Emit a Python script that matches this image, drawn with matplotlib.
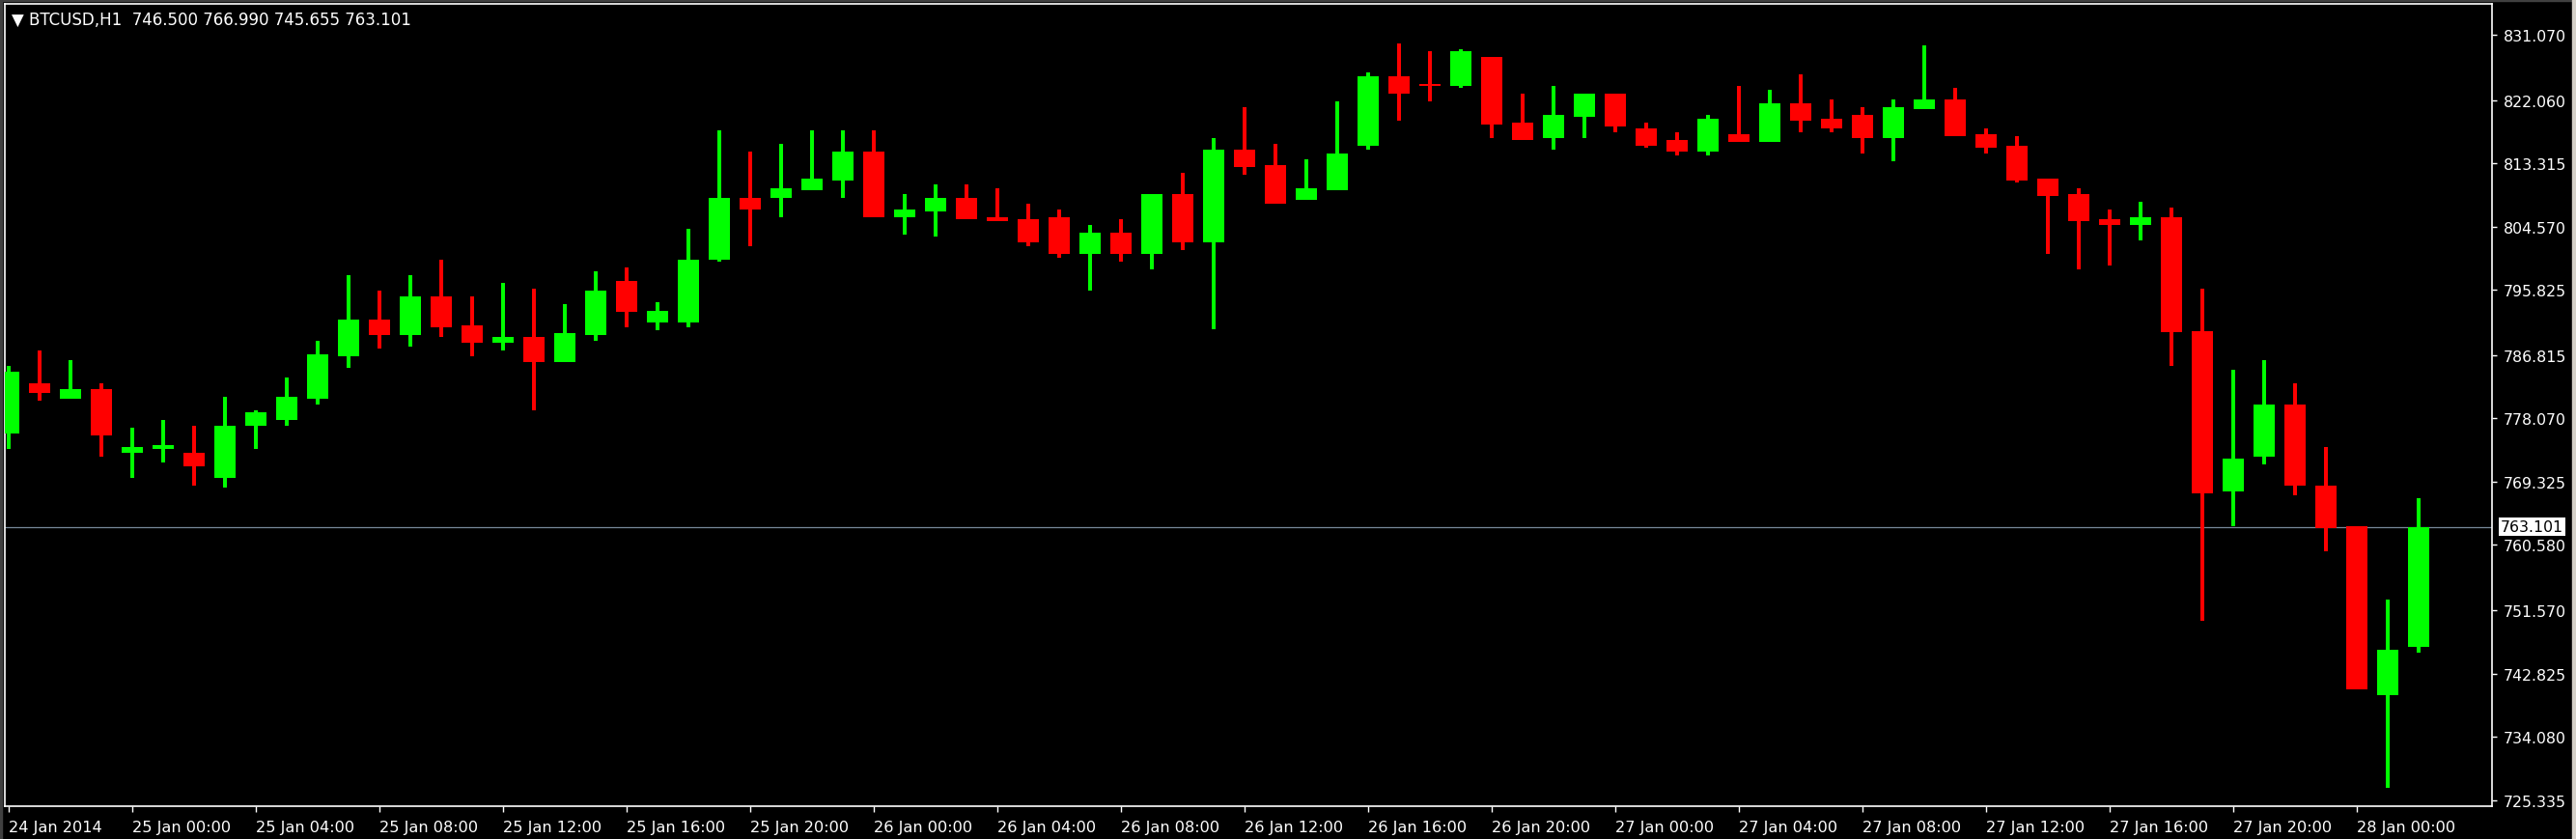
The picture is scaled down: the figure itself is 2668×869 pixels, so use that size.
import matplotlib
matplotlib.use("Agg")
import matplotlib.pyplot as plt
from matplotlib.transforms import blended_transform_factory
from matplotlib.patches import Rectangle

# ---------------- data (BTCUSD, H1) ----------------
opens = [776.03, 782.93, 780.84, 782.13, 773.36, 773.90, 773.32, 769.89, 777.10, 777.90,
         780.84, 786.70, 791.73, 789.64, 794.93, 790.93, 788.57, 789.33, 785.90, 789.64,
         797.07, 791.40, 791.40, 800.00, 808.54, 808.59, 809.66, 810.99, 814.95, 805.92,
         806.72, 808.54, 805.87, 805.61, 805.87, 800.85, 803.74, 800.85, 809.08, 802.45,
         815.22, 813.08, 808.32, 809.66, 815.79, 825.36, 824.29, 824.07, 828.03, 818.95,
         816.87, 819.80, 822.96, 818.16, 816.55, 814.99, 817.35, 816.33, 821.62, 819.49,
         820.02, 816.86, 820.87, 822.16, 817.35, 815.75, 811.21, 809.08, 805.61, 804.85,
         805.87, 790.16, 768.01, 772.84, 779.97, 768.76, 763.13, 739.76, 746.500]
highs = [785.33, 787.46, 786.13, 782.93, 776.79, 777.86, 777.05, 781.06, 779.19, 783.73,
         788.79, 797.87, 795.73, 797.87, 800.00, 794.93, 796.80, 796.00, 793.87, 798.40,
         798.94, 794.10, 804.27, 817.88, 814.95, 816.02, 817.88, 817.88, 817.88, 809.08,
         810.41, 810.41, 809.88, 807.74, 806.94, 804.81, 805.61, 809.08, 812.01, 816.82,
         821.09, 816.02, 813.88, 821.89, 825.89, 829.89, 828.83, 829.09, 828.03, 822.96,
         824.03, 822.96, 822.96, 818.96, 817.62, 820.02, 824.03, 823.49, 825.63, 822.16,
         821.09, 822.16, 829.63, 823.76, 818.15, 817.08, 811.21, 809.88, 806.94, 808.01,
         807.21, 796.00, 784.79, 786.13, 782.92, 774.13, 763.13, 753.06, 766.990]
lows = [773.90, 780.57, 780.84, 772.83, 769.89, 772.03, 768.83, 768.56, 773.90, 777.10,
        780.03, 785.10, 787.77, 788.04, 789.37, 786.70, 787.50, 779.23, 785.90, 788.84,
        790.71, 790.30, 790.70, 799.74, 801.92, 805.92, 809.66, 808.59, 805.92, 803.52,
        803.25, 805.65, 805.39, 801.92, 800.31, 795.78, 799.78, 798.71, 801.38, 790.44,
        811.79, 807.79, 808.32, 809.66, 815.26, 819.26, 821.93, 823.80, 816.86, 816.60,
        815.26, 816.87, 817.67, 815.53, 814.46, 814.46, 816.33, 816.33, 817.67, 817.67,
        814.73, 813.66, 820.87, 817.13, 814.73, 810.72, 800.85, 798.71, 799.25, 802.72,
        785.38, 750.16, 763.13, 771.77, 767.48, 759.76, 740.56, 727.00, 745.655]
closes = [784.53, 781.64, 782.13, 775.76, 774.12, 774.39, 771.49, 777.05, 778.92, 781.06,
          786.93, 791.73, 789.64, 794.93, 790.71, 788.57, 789.33, 785.90, 789.86, 795.73,
          792.84, 793.00, 800.00, 808.54, 806.99, 809.88, 811.21, 814.95, 805.92, 806.94,
          808.54, 805.65, 805.39, 802.45, 800.85, 803.74, 800.85, 809.08, 802.45, 815.22,
          812.86, 807.79, 809.88, 814.68, 825.36, 823.00, 824.02, 828.83, 818.73, 816.60,
          820.02, 822.96, 818.47, 815.80, 814.99, 819.49, 816.33, 821.62, 819.27, 818.20,
          816.86, 821.09, 822.16, 817.13, 815.53, 810.99, 808.86, 805.39, 804.85, 805.88,
          789.94, 767.75, 772.52, 779.97, 768.82, 762.97, 740.56, 746.09, 763.101]

xtick_bars = [0, 4, 8, 12, 16, 20, 24, 28, 32, 36, 40, 44, 48, 52, 56, 60, 64, 68, 72, 76]
xtick_labels = ["24 Jan 2014", "25 Jan 00:00", "25 Jan 04:00", "25 Jan 08:00", "25 Jan 12:00",
                "25 Jan 16:00", "25 Jan 20:00", "26 Jan 00:00", "26 Jan 04:00", "26 Jan 08:00",
                "26 Jan 12:00", "26 Jan 16:00", "26 Jan 20:00", "27 Jan 00:00", "27 Jan 04:00",
                "27 Jan 08:00", "27 Jan 12:00", "27 Jan 16:00", "27 Jan 20:00", "28 Jan 00:00"]
ytick_labels = ["831.070", "822.060", "813.315", "804.570", "795.825", "786.815", "778.070",
                "769.325", "760.580", "751.570", "742.825", "734.080", "725.335"]
ytick_values = [float(s) for s in ytick_labels]

symbol = "BTCUSD,H1"
last_price = closes[-1]

# ---------------- figure ----------------
W, H = 2668, 870
fig = plt.figure(figsize=(W / 100, H / 100), dpi=100, facecolor="black")
ax_l, ax_r, ax_t, ax_b = 5, 2581, 5, 836
ax = fig.add_axes([ax_l / W, 1 - ax_b / H, (ax_r - ax_l) / W, (ax_b - ax_t) / H])
ax.set_facecolor("black")

BULL = "#00FF00"
BEAR = "#FF0000"
body_w = 22 / 32

xs = list(range(len(opens)))
for x, o, h, l, c in zip(xs, opens, highs, lows, closes):
    col = BULL if c > o else BEAR
    ax.vlines(x, l, h, colors=col, linewidth=1.5, zorder=3, antialiased=False)
    bottom = min(o, c)
    height = max(abs(c - o), 0.2)
    ax.bar(x, height, bottom=bottom, width=body_w, color=col, linewidth=0,
           zorder=4, antialiased=False)

# bid line
ax.axhline(last_price, color="#778899", linewidth=0.9, zorder=2)

ax.set_xlim(-0.125, 80.375)
ax.set_ylim(724.48, 835.37)

for sp in ax.spines.values():
    sp.set_color("white")
    sp.set_linewidth(1.2)

# y axis on right
ax.yaxis.tick_right()
ax.set_yticks(ytick_values)
ax.set_yticklabels(ytick_labels)
ax.tick_params(axis="y", colors="white", length=3.5, width=1, pad=5, labelsize=11.3,
               labelcolor="white")

# x axis
ax.set_xticks(xtick_bars)
ax.set_xticklabels(xtick_labels)
ax.tick_params(axis="x", colors="white", length=4, width=1, pad=6, labelsize=11.6,
               labelcolor="white")
for lab in ax.get_xticklabels():
    lab.set_horizontalalignment("left")

# last price label box
tr = blended_transform_factory(ax.transAxes, ax.transData)
ax.text(1 + 9 / (ax_r - ax_l), last_price, f"{last_price:.3f}", transform=tr,
        ha="left", va="center", fontsize=11.3, color="black", zorder=10, clip_on=False,
        bbox=dict(boxstyle="square,pad=0.12", fc="white", ec="none"))

# header text
fig.text(12 / W, 1 - 21 / H,
         f"\u25BC {symbol}  {opens[-1]:.3f} {highs[-1]:.3f} {lows[-1]:.3f} {closes[-1]:.3f}",
         ha="left", va="center", color="white", fontsize=12)

# window border strips
fig.patches.append(Rectangle((0, 0), 2 / W, 1, transform=fig.transFigure,
                             color="#404040", zorder=0))
fig.patches.append(Rectangle((0, 1 - 2 / H), 1, 2 / H, transform=fig.transFigure,
                             color="#404040", zorder=0))
fig.patches.append(Rectangle((1 - 4 / W, 0), 4 / W, 1, transform=fig.transFigure,
                             color="#D4D0C8", zorder=0))

fig.savefig("out.png", dpi=100, facecolor="black")
